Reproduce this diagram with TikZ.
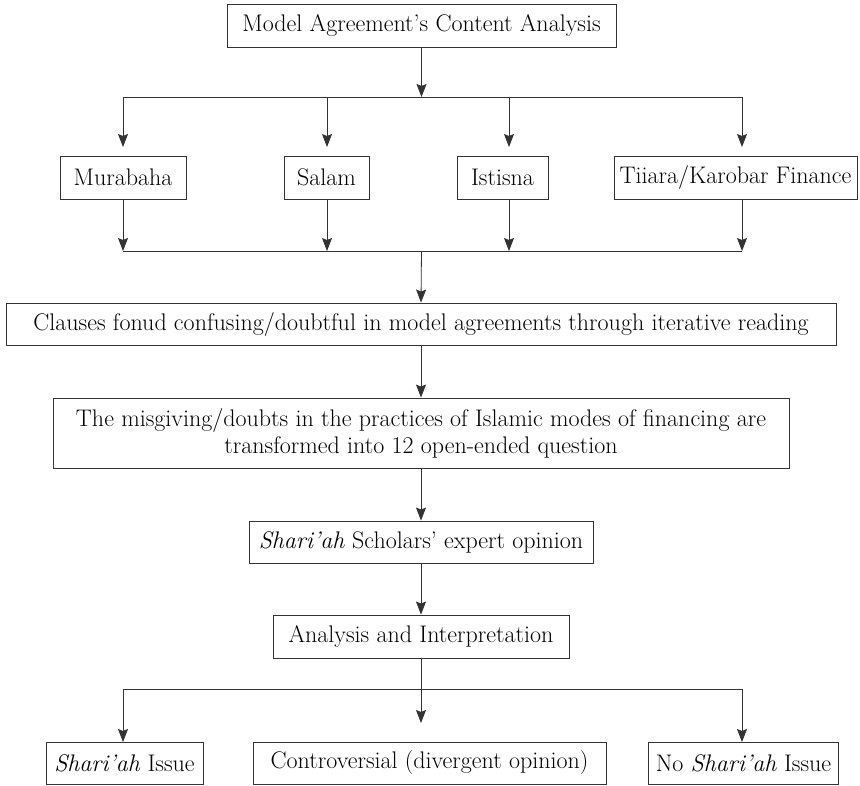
\documentclass[tikz,border=0pt]{standalone}
\usepackage{fontspec}
\usetikzlibrary{arrows.meta}
\tikzset{
  box/.style={draw=black!80, line width=0.9pt, inner sep=0pt, align=center,
    font=\fontsize{24}{27}\selectfont, text=black},
  conn/.style={draw=black!80, line width=0.8pt},
  arr/.style={conn, -{Stealth[length=13pt,width=10pt,inset=2pt]}},
}
\begin{document}
\begin{tikzpicture}[x=1pt,y=-1pt]
\useasboundingbox (0,0) rectangle (860,785);
% nodes
\node[box, minimum width=389pt, minimum height=43pt] (top) at (421.5,25.5) {Model Agreement’s Content Analysis};
\node[box, minimum width=126pt, minimum height=43pt] (mur) at (123,177.5) {Murabaha};
\node[box, minimum width=85pt, minimum height=43pt] (sal) at (326.5,177.5) {Salam};
\node[box, minimum width=91pt, minimum height=43pt] (ist) at (502.5,177.5) {Istisna};
\node[box, minimum width=243pt, minimum height=43pt] (tii) at (735.5,177.5) {Tiiara/Karobar Finance};
\node[box, minimum width=830pt, minimum height=42pt] (cla) at (421,324) {Clauses fonud confusing/doubtful in model agreements through iterative reading};
\node[box, minimum width=736pt, minimum height=70pt] (mis) at (421,433) {The misgiving/doubts in the practices of Islamic modes of financing are\\transformed into 12 open-ended question};
\node[box, minimum width=344pt, minimum height=42pt] (sch) at (421,542) {\textit{Shari’ah} Scholars’ expert opinion};
\node[box, minimum width=296pt, minimum height=43pt] (ana) at (421,636.5) {Analysis and Interpretation};
\node[box, minimum width=157pt, minimum height=42pt] (shi) at (124.5,763) {\textit{Shari’ah} Issue};
\node[box, minimum width=353pt, minimum height=42pt] (con) at (429.5,763) {Controversial (divergent opinion)};
\node[box, minimum width=190pt, minimum height=42pt] (nos) at (743.5,763) {No \textit{Shari’ah} Issue};
% junction coordinates
\coordinate (t0) at (421.5,97);
\coordinate (t1) at (123,97);
\coordinate (t2) at (327,97);
\coordinate (t3) at (509,97);
\coordinate (t4) at (742,97);
\coordinate (e1) at (123,147);
\coordinate (e2) at (327,147);
\coordinate (e3) at (509,147);
\coordinate (e4) at (742,147);
\coordinate (b0) at (421.5,251);
\coordinate (b1) at (123,251);
\coordinate (b2) at (327,251);
\coordinate (b3) at (509,251);
\coordinate (b4) at (742,251);
\coordinate (s2) at (327,199);
\coordinate (s3) at (509,199);
\coordinate (s4) at (742,199);
\coordinate (c0) at (421,689);
\coordinate (c1) at (123,689);
\coordinate (c2) at (742,689);
\coordinate (d1) at (123,742);
\coordinate (d2) at (742,742);
\coordinate (d0) at (421,723);
% top fan-out
\draw[arr] (top.south) -- (t0);
\draw[conn] (t1) -- (t4);
\draw[arr] (t1) -- (e1);
\draw[arr] (t2) -- (e2);
\draw[arr] (t3) -- (e3);
\draw[arr] (t4) -- (e4);
% fan-in
\draw[arr] (mur.south) -- (b1);
\draw[arr] (s2) -- (b2);
\draw[arr] (s3) -- (b3);
\draw[arr] (s4) -- (b4);
\draw[conn] (b1) -- (b4);
\draw[arr] (b0) -- (cla.north);
% chain
\draw[arr] (cla.south) -- (mis.north);
\draw[arr] (mis.south) -- (sch.north);
\draw[arr] (sch.south) -- (ana.north);
% bottom fan-out
\draw[conn] (ana.south) -- (c0);
\draw[conn] (c1) -- (c2);
\draw[arr] (c1) -- (d1);
\draw[arr] (c2) -- (d2);
\draw[arr] (c0) -- (d0);
\end{tikzpicture}
\end{document}
